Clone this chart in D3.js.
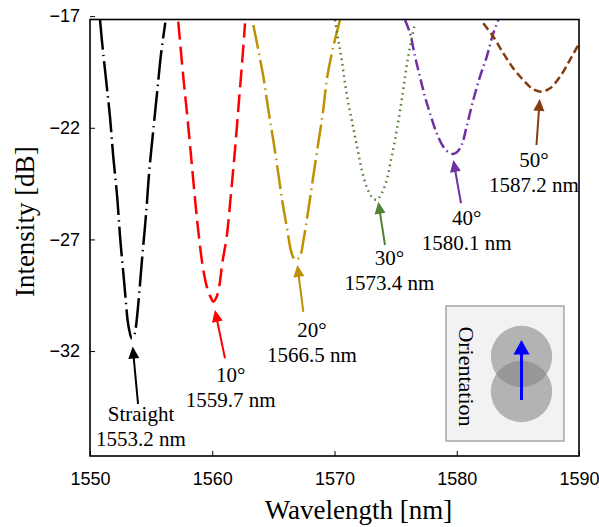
<!DOCTYPE html>
<html>
<head>
<meta charset="utf-8">
<script src="https://cdnjs.cloudflare.com/ajax/libs/d3/7.8.5/d3.min.js"></script>
<style>
  html, body { margin: 0; padding: 0; background: #fff; }
  svg { display: block; }
  .tick text { font-family: "Liberation Sans", Arial, sans-serif; font-size: 18px; fill: #000; }
  .axis-title, .note, .inset-label { font-family: "Liberation Serif", "Times New Roman", serif; fill: #000; }
</style>
</head>
<body>
<div id="chart"></div>
<script>
// spectra: wavelength [nm] and intensity [dB]
const straightWl = [1550.82, 1551.01, 1551.37, 1551.64, 1551.91, 1552.21, 1552.48, 1552.81, 1553.08, 1553.21, 1553.41, 1553.62, 1553.74, 1553.95, 1554.28, 1554.58, 1554.85, 1555.21, 1555.51, 1555.81, 1556.16]
const straightDb = [-17.17, -18.29, -20.13, -21.55, -23.34, -25.01, -27.02, -29.0, -30.64, -31.06, -31.43, -31.28, -30.97, -29.89, -27.74, -25.9, -23.92, -21.92, -20.31, -18.7, -17.29]

const deg10Wl = [1557.22, 1557.63, 1557.99, 1558.32, 1558.65, 1558.94, 1559.27, 1559.63, 1559.9, 1560.09, 1560.35, 1560.59, 1560.82, 1561.18, 1561.51, 1561.86, 1562.19, 1562.46, 1562.68]
const deg10Db = [-17.25, -19.71, -21.65, -23.59, -25.53, -27.02, -28.37, -29.26, -29.62, -29.79, -29.58, -29.04, -28.07, -26.88, -25.09, -22.99, -20.76, -18.96, -17.32]

const deg20Wl = [1563.36, 1563.77, 1564.18, 1564.59, 1564.99, 1565.4, 1565.76, 1566.14, 1566.42, 1566.61, 1566.77, 1566.97, 1567.18, 1567.51, 1567.86, 1568.22, 1568.59, 1569.04, 1569.41, 1569.9, 1570.45]
const deg20Db = [-17.4, -18.52, -19.71, -21.2, -22.55, -24.04, -25.38, -26.58, -27.47, -27.79, -27.92, -27.88, -27.77, -26.88, -25.68, -24.34, -22.99, -21.35, -19.71, -18.37, -17.17]

const deg30Wl = [1570.04, 1570.31, 1570.59, 1570.86, 1571.13, 1571.41, 1571.68, 1571.95, 1572.23, 1572.63, 1573.04, 1573.45, 1573.86, 1574.27, 1574.62, 1574.95, 1575.28, 1575.58, 1575.85, 1576.18, 1576.59]
const deg30Db = [-17.17, -18.07, -18.96, -20.01, -20.9, -21.65, -22.4, -23.14, -23.89, -24.64, -25.09, -25.23, -24.93, -24.34, -23.44, -22.55, -21.5, -20.46, -19.41, -18.37, -17.32]

const deg40Wl = [1575.77, 1576.18, 1576.59, 1576.99, 1577.4, 1577.81, 1578.36, 1578.9, 1579.28, 1579.72, 1580.1, 1580.43, 1580.81, 1581.35, 1581.9, 1582.45, 1582.99, 1583.4]
const deg40Db = [-17.17, -17.77, -18.82, -19.71, -20.61, -21.35, -22.25, -22.85, -23.08, -23.17, -23.04, -22.73, -21.95, -20.76, -19.71, -18.82, -17.77, -17.17]

const deg50Wl = [1582.17, 1582.99, 1583.81, 1584.63, 1585.44, 1586.26, 1586.95, 1587.63, 1588.45, 1589.26, 1589.94]
const deg50Db = [-17.32, -17.92, -18.66, -19.34, -19.86, -20.28, -20.38, -20.23, -19.71, -18.96, -18.29]

const curveNames = ['Straight', '10°', '20°', '30°', '40°', '50°']
const peakTexts = ['1553.2 nm', '1559.7 nm', '1566.5 nm', '1573.4 nm', '1580.1 nm', '1587.2 nm']

// annotation anchors, in data units
const labelWl = [1554.17, 1561.51, 1568.16, 1574.5, 1580.81, 1586.32]
const labelDb = [-35.13, -33.38, -31.37, -28.14, -26.35, -23.74]
const arrowTailWl = [1553.93, 1561.04, 1567.45, 1574.13, 1580.35, 1586.52]
const arrowTailDb = [-34.37, -32.32, -30.24, -27.25, -25.38, -22.77]
const arrowTipWl = [1553.49, 1560.22, 1566.96, 1573.58, 1579.72, 1586.79]
const arrowTipDb = [-31.8, -30.16, -28.14, -25.31, -23.44, -20.71]

const xTicks = [1550, 1560, 1570, 1580, 1590]
const yTicks = [-32, -27, -22, -17]

const colors = ['#000000', '#ff0000', '#bf9000', '#548235', '#7030a0', '#843c0c']
const dashes = ['30,5,1.5,5', '18,7', '24,5,1.5,5', '1.6,4', '11,4,1.5,4', '8,4']

class SpectrumChart {
  constructor(selector) {
    this.selector = selector
    this.width = 599
    this.height = 527
    this.margin = {left: 90, top: 19.5, right: 20, bottom: 71}
    this.init()
  }

  init() {
    const wls = [straightWl, deg10Wl, deg20Wl, deg30Wl, deg40Wl, deg50Wl]
    const dbs = [straightDb, deg10Db, deg20Db, deg30Db, deg40Db, deg50Db]
    this.series = curveNames.map((name, i) => ({
      name: name,
      peak: peakTexts[i],
      points: wls[i].map((w, j) => [w, dbs[i][j]]),
      color: colors[i],
      dash: dashes[i],
    }))
    this.x = d3.scaleLinear().domain([1550, 1590]).range([this.margin.left, this.width - this.margin.right])
    this.y = d3.scaleLinear().domain([-36.7, -17.15]).range([this.height - this.margin.bottom, this.margin.top])
  }

  drawAxes(svg) {
    const x = this.x, y = this.y
    const bottom = this.height - this.margin.bottom
    const gx = svg.append('g')
      .attr('transform', `translate(0,${bottom})`)
      .call(d3.axisBottom(x).tickValues(xTicks).tickSizeInner(-5).tickSizeOuter(0).tickPadding(16).tickFormat(d3.format('d')))
    const gy = svg.append('g')
      .attr('transform', `translate(${this.margin.left},0)`)
      .call(d3.axisLeft(y).tickValues(yTicks).tickSizeInner(-5).tickSizeOuter(0).tickPadding(10))
    gx.select('.domain').remove()
    gy.select('.domain').remove()
    svg.selectAll('.tick line').attr('stroke', '#000').attr('stroke-width', 1)

    svg.append('rect')
      .attr('x', x.range()[0]).attr('y', y.range()[1])
      .attr('width', x.range()[1] - x.range()[0])
      .attr('height', y.range()[0] - y.range()[1])
      .attr('fill', 'none').attr('stroke', '#000').attr('stroke-width', 1.6)

    svg.append('text').attr('class', 'axis-title')
      .attr('x', (x.range()[0] + x.range()[1]) / 2 + 24).attr('y', 519)
      .attr('text-anchor', 'middle').style('font-size', '27px')
      .text('Wavelength [nm]')
    svg.append('text').attr('class', 'axis-title')
      .attr('transform', `translate(25,${(y.range()[0] + y.range()[1]) / 2 - 16}) rotate(-90)`)
      .attr('text-anchor', 'middle').attr('dy', '0.35em').style('font-size', '27px')
      .text('Intensity [dB]')
  }

  drawCurves(svg) {
    const x = this.x, y = this.y
    svg.append('clipPath').attr('id', 'plot-clip')
      .append('rect')
      .attr('x', x.range()[0]).attr('y', y.range()[1])
      .attr('width', x.range()[1] - x.range()[0])
      .attr('height', y.range()[0] - y.range()[1])
    const line = d3.line()
      .x((d) => x(d[0]))
      .y((d) => y(d[1]))
      .curve(d3.curveCatmullRom.alpha(0.5))
    svg.append('g').attr('clip-path', 'url(#plot-clip)')
      .selectAll('path')
      .data(this.series)
      .join('path')
        .attr('d', (d) => line(d.points))
        .attr('fill', 'none')
        .attr('stroke', (d) => d.color)
        .attr('stroke-width', 2.5)
        .attr('stroke-dasharray', (d) => d.dash)
  }

  drawAnnotations(svg) {
    const x = this.x, y = this.y
    const headLen = 12, headHalf = 5.5
    this.series.forEach((s, i) => {
      const x0 = x(arrowTailWl[i]), y0 = y(arrowTailDb[i])
      const x1 = x(arrowTipWl[i]), y1 = y(arrowTipDb[i])
      const len = Math.hypot(x1 - x0, y1 - y0)
      const ux = (x1 - x0) / len, uy = (y1 - y0) / len
      const bx = x1 - ux * headLen, by = y1 - uy * headLen
      svg.append('line')
        .attr('x1', x0).attr('y1', y0).attr('x2', bx + ux).attr('y2', by + uy)
        .attr('stroke', s.color).attr('stroke-width', 2)
      svg.append('path')
        .attr('d', `M${x1},${y1}L${bx - uy * headHalf},${by + ux * headHalf}L${bx + uy * headHalf},${by - ux * headHalf}Z`)
        .attr('fill', s.color)
      const t = svg.append('text').attr('class', 'note')
        .attr('text-anchor', 'middle').style('font-size', '21px')
      t.append('tspan').attr('x', x(labelWl[i])).attr('y', y(labelDb[i])).text(s.name)
      t.append('tspan').attr('x', x(labelWl[i])).attr('y', y(labelDb[i]) + 25).text(s.peak)
    })
  }

  drawInset(svg) {
    const left = this.x.range()[1] - 133
    const top = this.y.range()[0] - 150
    const g = svg.append('g').attr('transform', `translate(${left},${top})`)
    g.append('rect').attr('width', 118).attr('height', 135)
      .attr('fill', '#f2f2f2').attr('stroke', '#a6a6a6').attr('stroke-width', 1.5)
    g.append('text').attr('class', 'inset-label')
      .attr('transform', 'translate(21,70.5) rotate(90)')
      .attr('text-anchor', 'middle').attr('dy', '0.35em').style('font-size', '22px')
      .text('Orientation')
    g.selectAll('circle')
      .data([50.5, 85.5])
      .join('circle')
        .attr('cx', 75.5).attr('cy', (d) => d).attr('r', 30.7)
        .attr('fill', '#808080').attr('fill-opacity', 0.55)
    g.append('line').attr('x1', 75.5).attr('y1', 94).attr('x2', 75.5).attr('y2', 46)
      .attr('stroke', '#0000ff').attr('stroke-width', 3)
    g.append('path').attr('d', 'M75.5,34L83.5,48.5L67.5,48.5Z').attr('fill', '#0000ff')
  }

  draw() {
    const svg = d3.select(this.selector).append('svg')
      .attr('width', this.width).attr('height', this.height)
    this.drawCurves(svg)
    this.drawAxes(svg)
    this.drawAnnotations(svg)
    this.drawInset(svg)
  }
}

new SpectrumChart('#chart').draw()
</script>
</body>
</html>
